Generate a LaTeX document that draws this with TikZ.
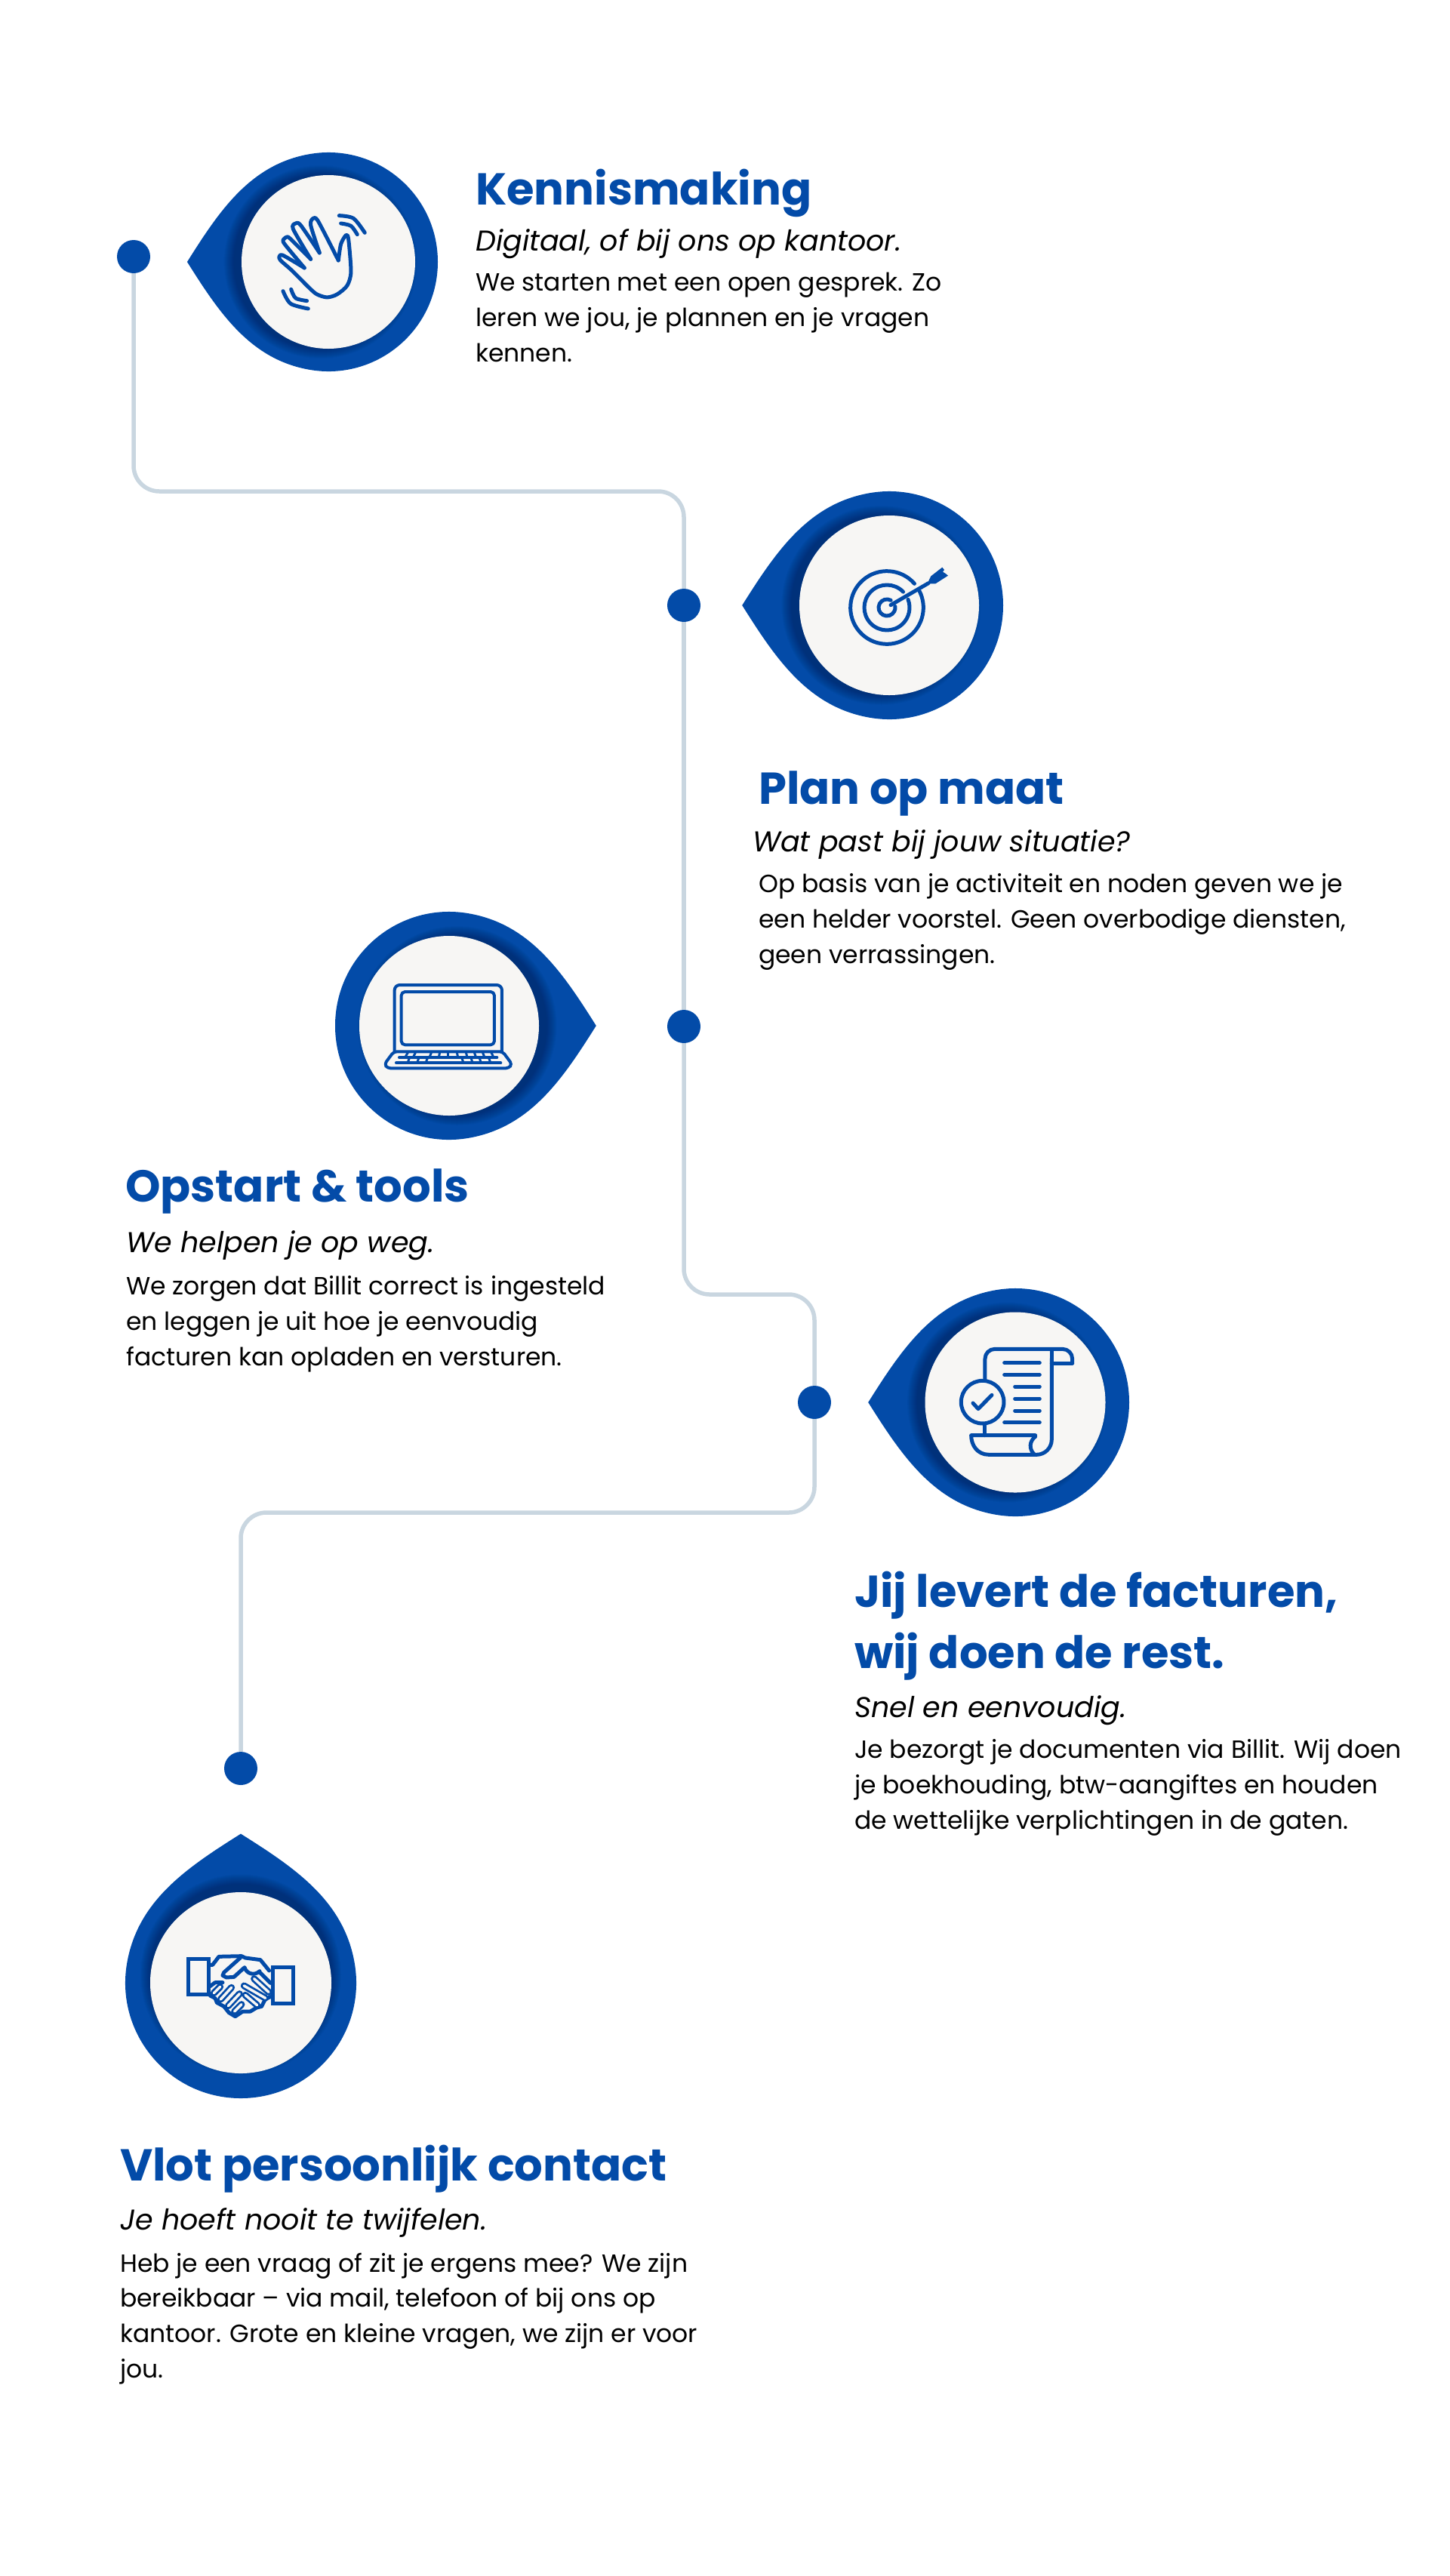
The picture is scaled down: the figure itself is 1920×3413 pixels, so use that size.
\documentclass[tikz,border=0pt]{standalone}
\usepackage{fontspec}
\setmainfont{Poppins}
\usepackage{tikz}
\usetikzlibrary{positioning,calc}

\definecolor{dropblue}{HTML}{034BA8}
\definecolor{discgrey}{HTML}{F7F6F4}
\definecolor{trackgrey}{HTML}{C9D6E0}

% name, x, y, outer radius, inner radius, axis pointing away from the tip
\newcommand{\dropmarker}[7]{%
  \begin{scope}[shift={(#2,#3)},x={({#6*#4*1pt},{#7*#4*1pt})},y={({(0-#7)*#4*1pt},{#6*#4*1pt})}]
    \path[fill=dropblue,save path=\droppath] (-1.29,0) .. controls (-1,.46) and (-.716,.89) .. (-.1736,.9848)
      .. controls (.4387,1.0927) and (1,.6217) .. (1,0)
      .. controls (1,-.6217) and (.4387,-1.0927) .. (-.1736,-.9848)
      .. controls (-.716,-.89) and (-1,-.46) .. cycle;
    \begin{scope}
      \clip[use path=\droppath];
      \foreach \k in {0,...,13}
        \fill[black,opacity=.018] (-.07,0) circle[radius={(#5+\k)*1pt}];
    \end{scope}
  \end{scope}
  \node[disc,minimum size=#5*2pt] (#1) at (#2,#3) {};
}

\begin{document}
\begin{tikzpicture}[
  x=1pt, y=-1pt,
  dot/.style={circle, fill=dropblue, minimum size=44pt, inner sep=0pt},
  disc/.style={circle, fill=discgrey, inner sep=0pt},
  track/.style={draw=trackgrey, line width=5.5pt, rounded corners=34pt},
  iconline/.style={draw=dropblue, line width=5pt, line cap=round, line join=round},
  iconthin/.style={draw=dropblue, line width=4pt, line cap=round, line join=round},
  zoomed/.style={x=.3333pt, y=-.3333pt},
  fingerline/.style={draw=dropblue, line width=9pt, line cap=round},
  fingergap/.style={draw=discgrey, line width=3.5pt, line cap=round},
  titletext/.style={anchor=base west, inner sep=0pt, text=dropblue, font=\fontsize{59.2}{81}\selectfont\bfseries},
  subtext/.style={anchor=base west, inner sep=0pt, font=\fontsize{38}{46}\itshape\selectfont},
  bodytext/.style={anchor=base west, inner sep=0pt, align=left, font=\fontsize{33}{46.6}\selectfont}
]
  \useasboundingbox (0,0) rectangle (1920,3413);

  \node[dot] (dotkennis) at (177,340) {};
  \node[dot] (dotplan) at (906,802) {};
  \node[dot] (dotopstart) at (906,1360) {};
  \node[dot] (dotfactuur) at (1079,1858) {};
  \node[dot] (dotcontact) at (319,2343) {};

  \coordinate (benda) at (177,651);
  \coordinate (bendb) at (906,651);
  \coordinate (bendc) at (906,1715);
  \coordinate (bendd) at (1079,1715);
  \coordinate (bende) at (1079,2004);
  \coordinate (bendf) at (319,2004);

  \draw[track] (dotkennis) -- (benda) -- (bendb) -- (dotplan);
  \draw[track] (dotplan) -- (dotopstart);
  \draw[track] (dotopstart) -- (bendc) -- (bendd) -- (dotfactuur);
  \draw[track] (dotfactuur) -- (bende) -- (bendf) -- (dotcontact);

  \dropmarker{dischand}{435}{347}{145}{115}{1}{0}
  \dropmarker{disctarget}{1178}{802}{151}{119}{1}{0}
  \dropmarker{disclaptop}{595}{1359}{151}{119}{-1}{0}
  \dropmarker{discscroll}{1345}{1858}{151}{119.5}{1}{0}
  \dropmarker{dischands}{319}{2627}{153}{120}{0}{-1}

  % waving hand
  \begin{scope}[shift={(130,170)},zoomed]
    \draw[iconline] plot[smooth,tension=.45] coordinates {(955,525) (965,460) (985,425) (995,440) (1005,570) (990,625) (950,660) (910,672) (870,660) (840,635) (770,565) (725,525) (720,510) (735,505) (820,555)};
    \draw[iconline] plot[smooth,tension=.45] coordinates {(820,555) (745,465) (735,445) (750,432) (765,440) (845,520)};
    \draw[iconline] plot[smooth,tension=.45] coordinates {(845,520) (775,400) (785,378) (805,385) (880,495)};
    \draw[iconline] plot[smooth,tension=.45] coordinates {(880,495) (845,385) (855,358) (875,370) (955,525)};
    \draw[iconline] plot[smooth] coordinates {(958,347) (1015,358) (1060,415)};
    \draw[iconline] plot[smooth] coordinates {(965,378) (1005,388) (1030,422)};
    \draw[iconline] plot[smooth] coordinates {(735,647) (765,697) (835,717)};
    \draw[iconline] plot[smooth] coordinates {(767,640) (785,675) (830,686)};
  \end{scope}

  % target with arrow
  \begin{scope}[shift={(1175,805)},x=.3333pt,y=.3333pt]
    \draw[iconline] (41:145) arc[start angle=41,end angle=386.6,radius=145];
    \draw[iconline] (44:90) arc[start angle=44,end angle=381,radius=90];
    \draw[iconline] (62:33) arc[start angle=62,end angle=368,radius=33];
    \draw[iconline] (15,10) -- (165,97);
    \fill[dropblue] (163,100) -- (175,125) -- (220,160) -- (228,150) -- (222,142) -- (232,136) -- (243,127) -- (193,95) -- (167,95) -- cycle;
  \end{scope}

  % laptop
  \begin{scope}[shift={(420,1190)},zoomed]
    \draw[iconthin,rounded corners=7pt] (308,608) -- (308,345) -- (735,345) -- (735,608);
    \draw[iconthin,rounded corners=5pt] (335,372) rectangle (705,583);
    \draw[iconthin,rounded corners=4pt] (305,610) -- (268,660) -- (280,676) -- (762,676) -- (775,660) -- (738,610) -- cycle;
    \draw[iconthin] (327,633) -- (715,633);
    \draw[iconthin] (315,655) -- (730,655);
    \foreach \xa/\xb in {362/350,392/382,455/447,488/484,522/522,556/560,592/597,625/632,658/666,692/702}
      \draw[iconthin,line width=3pt] (\xa,612) -- (\xb,633);
    \foreach \xa/\xb in {368/360,405/398,440/432,575/582,612/618,645/652,682/690}
      \draw[iconthin,line width=3pt] (\xa,633) -- (\xb,655);
  \end{scope}

  % document scroll
  \begin{scope}[shift={(1130,1690)},zoomed]
    \draw[iconline,rounded corners=13pt] (525,410) -- (525,292) -- (872,292) -- (872,348);
    \draw[iconline] (872,348) -- (790,348);
    \draw[iconline,rounded corners=8pt] (790,295) -- (790,348);
    \draw[iconline,rounded corners=20pt] (790,330) -- (790,712) -- (725,712);
    \draw[iconline] (725,712) -- (540,712) .. controls (495,712) and (470,675) .. (470,635) -- (725,635);
    \draw[iconline] (725,640) .. controls (700,660) and (700,690) .. (720,710);
    \draw[iconline] (525,595) -- (525,635);
    \draw[iconline] (515,503) circle[radius=85];
    \draw[iconline] (477,507) -- (498,530) -- (552,475);
    \foreach \xs/\ys in {602/347,602/394,644/441,644/489,644/537,602/584}
      \draw[iconline] (\xs,\ys) -- (742,\ys);
  \end{scope}

  % handshake
  \begin{scope}[shift={(150,2410)},zoomed]
    \draw[draw=dropblue,line width=5pt] (298,557) rectangle (380,698);
    \draw[draw=dropblue,line width=5pt] (634,590) rectangle (715,732);
    \draw[iconline] (385,580) -- (395,580) -- (420,547) -- (510,545) -- (525,552) -- (585,560) -- (620,603);
    \draw[iconline] (505,552) -- (440,610) -- (435,622) -- (450,630) -- (480,628) -- (522,590) .. controls (530,615) and (560,625) .. (582,605);
    \draw[iconline] (585,612) -- (625,652);
    \draw[iconline] (385,665) -- (405,650) -- (435,650);
    \draw[iconline] (385,702) -- (405,712) -- (412,730) -- (440,745) -- (460,770) -- (485,785) -- (515,765) -- (545,765) -- (570,750) -- (590,745) -- (605,715) -- (630,705);
    \foreach \xa/\ya/\xb/\yb in {400/692/425/667,427/717/470/670,457/743/502/695,482/765/510/737,560/635/618/688,520/663/605/712,525/700/572/740}{
      \draw[fingerline] (\xa,\ya) -- (\xb,\yb);
      \draw[fingergap] (\xa,\ya) -- (\xb,\yb);
    }
  \end{scope}

  \node[titletext] (titlekennis) at (630,271) {Kennismaking};
  \node[subtext] (subkennis) at (630,332) {Digitaal, of bij ons op kantoor.};
  \node[bodytext] (bodykennis) at (630,479) {We starten met een open gesprek. Zo\\leren we jou, je plannen en je vragen\\kennen.};

  \node[titletext] (titleplan) at (1005,1065) {Plan op maat};
  \node[subtext] (subplan) at (997,1128) {Wat past bij jouw situatie?};
  \node[bodytext] (bodyplan) at (1005,1276) {Op basis van je activiteit en noden geven we je\\een helder voorstel. Geen overbodige diensten,\\geen verrassingen.};

  \node[titletext] (titleopstart) at (166,1592) {Opstart \& tools};
  \node[subtext] (subopstart) at (167,1659) {We helpen je op weg.};
  \node[bodytext] (bodyopstart) at (167,1809) {We zorgen dat Billit correct is ingesteld\\en leggen je uit hoe je eenvoudig\\facturen kan opladen en versturen.};

  \node[titletext] (titlefactuur) at (1132,2129) {Jij levert de facturen,};
  \node[titletext] (titlerest) at (1132,2210) {wij doen de rest.};
  \node[subtext] (subfactuur) at (1132,2275) {Snel en eenvoudig.};
  \node[bodytext] (bodyfactuur) at (1132,2423) {Je bezorgt je documenten via Billit. Wij doen\\je boekhouding, btw-aangiftes en houden\\de wettelijke verplichtingen in de gaten.};

  \node[titletext] (titlecontact) at (159,2889) {Vlot persoonlijk contact};
  \node[subtext] (subcontact) at (159,2954) {Je hoeft nooit te twijfelen.};
  \node[bodytext] (bodycontact) at (159,3150) {Heb je een vraag of zit je ergens mee? We zijn\\bereikbaar -- via mail, telefoon of bij ons op\\kantoor. Grote en kleine vragen, we zijn er voor\\jou.};
\end{tikzpicture}
\end{document}
